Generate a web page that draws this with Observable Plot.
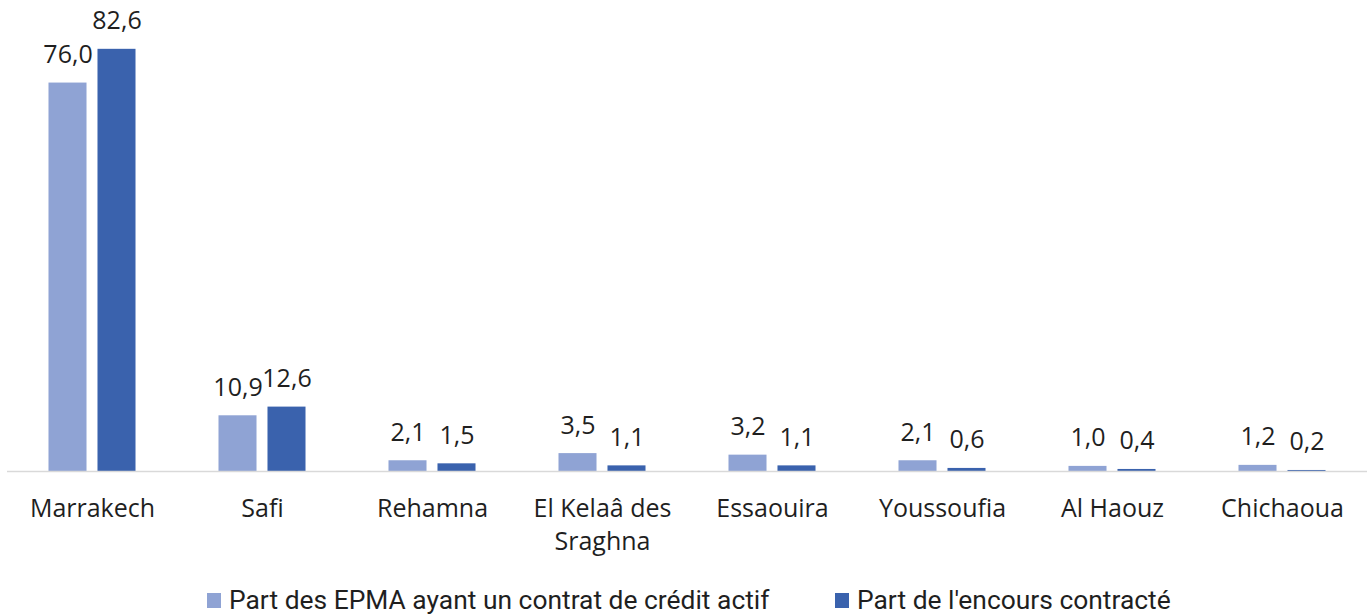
<!DOCTYPE html>
<html>
<head>
<meta charset="utf-8">
<script src="https://cdn.jsdelivr.net/npm/d3@7"></script>
<script src="https://cdn.jsdelivr.net/npm/@observablehq/plot@0.6"></script>
<style>
  html, body { margin: 0; padding: 0; background: #fff; }
  #chart { width: 1371px; }
  .legend { position: relative; height: 36px; font-family: "Roboto", sans-serif; font-size: 26.4px; color: #1f1f1f; }
  .legend .item { position: absolute; top: 0; display: flex; align-items: center; white-space: nowrap; }
  .legend .sw { width: 14px; height: 15px; margin-right: 8px; }
</style>
</head>
<body>
<div id="chart"></div>
<script>
const categories = ["Marrakech", "Safi", "Rehamna", "El Kelaâ des Sraghna", "Essaouira", "Youssoufia", "Al Haouz", "Chichaoua"];
const categoryLabels = ["Marrakech", "Safi", "Rehamna", "El Kelaâ des\nSraghna", "Essaouira", "Youssoufia", "Al Haouz", "Chichaoua"];
const series = ["Part des EPMA ayant un contrat de crédit actif", "Part de l'encours contracté"];
const partEPMA = [76.0, 10.9, 2.1, 3.5, 3.2, 2.1, 1.0, 1.2];
const partEncours = [82.6, 12.6, 1.5, 1.1, 1.1, 0.6, 0.4, 0.2];
const colors = ["#8FA3D4", "#3A62AD"];

const data = [];
categories.forEach((c, i) => {
  data.push({cat: c, series: series[0], value: partEPMA[i]});
  data.push({cat: c, series: series[1], value: partEncours[i]});
});
const fmt = v => v.toFixed(1).replace(".", ",");
const labelOf = c => categoryLabels[categories.indexOf(c)];

const fontFamily = "'Open Sans', sans-serif";

const chart = Plot.plot({
  width: 1371,
  height: 575,
  marginLeft: 7,
  marginRight: 4,
  marginTop: 11,
  marginBottom: 104,
  style: {fontFamily, fontSize: "25px", color: "#1f1f1f", background: "#fff"},
  fx: {domain: categories, padding: 0, label: null, round: false},
  x: {domain: series, paddingInner: 0.224, paddingOuter: 0.847, axis: null, round: false},
  y: {domain: [0, 90], axis: null},
  color: {domain: series, range: colors},
  marks: [
    Plot.barY(data, {fx: "cat", x: "series", y: "value", fill: "series"}),
    Plot.ruleY([0], {stroke: "#d9d9d9", strokeWidth: 1.5}),
    Plot.text(data, {fx: "cat", x: "series", y: "value", text: d => fmt(d.value), dy: -28, lineAnchor: "middle", fontSize: 25, fill: "#1f1f1f"}),
    Plot.axisFx({anchor: "bottom", tickSize: 0, tickPadding: 22, label: null, tickFormat: labelOf, fontSize: 25, lineHeight: 1.32, fill: "#1f1f1f"})
  ]
});
document.getElementById("chart").appendChild(chart);

const legend = document.createElement("div");
legend.className = "legend";
legend.style.marginTop = "10px";
const lefts = [207, 835];
series.forEach((s, i) => {
  const item = document.createElement("div");
  item.className = "item";
  item.style.left = lefts[i] + "px";
  const sw = document.createElement("span");
  sw.className = "sw";
  sw.style.background = colors[i];
  const tx = document.createElement("span");
  tx.textContent = s;
  item.appendChild(sw);
  item.appendChild(tx);
  legend.appendChild(item);
});
document.getElementById("chart").appendChild(legend);
</script>
</body>
</html>
